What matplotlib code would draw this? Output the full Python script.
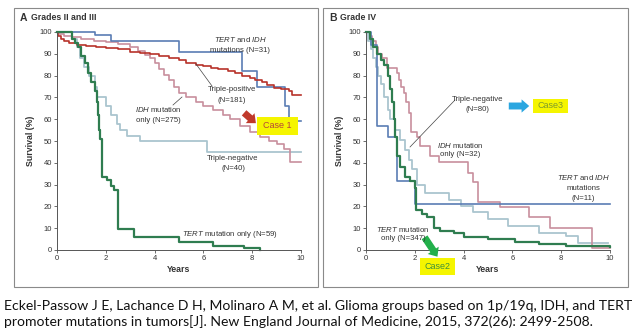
import matplotlib
matplotlib.use("Agg")
import matplotlib.pyplot as plt
from matplotlib.patches import Rectangle, FancyArrowPatch
from matplotlib.lines import Line2D

W, H = 640, 336

plt.rcParams['font.family'] = 'Liberation Sans'
plt.rcParams['mathtext.fontset'] = 'custom'
plt.rcParams['mathtext.it'] = 'Liberation Sans:italic'
plt.rcParams['mathtext.rm'] = 'Liberation Sans'

# ---- panel A: grades II and III (years, survival %) ----
a_blue_t = [0, 1.55, 2.2, 5.0, 7.6, 8.2, 9.35, 9.5, 10]
a_blue_s = [100, 98.5, 96, 91, 82, 75, 66, 59, 59]

a_red_t = [0, 0.05, 0.15, 0.3, 0.5, 0.8, 1.2, 1.6, 2.0, 2.5, 3.0, 3.4, 3.8, 4.2, 4.6, 5.0,
           5.3, 5.7, 6.0, 6.3, 6.6, 7.0, 7.3, 7.6, 7.9, 8.1, 8.4, 8.6, 8.9, 9.2, 9.5, 9.65, 10]
a_red_s = [100, 98, 97, 96, 95, 94, 93.5, 93, 92.5, 92, 91, 90.5, 90, 89, 88, 87,
           86, 85, 84.5, 83.5, 83, 82, 81, 80, 79, 78, 77, 75.5, 74.5, 74, 73, 71, 71]

a_pink_t = [0, 0.1, 0.3, 0.6, 1.0, 1.5, 2.0, 2.5, 3.0, 3.3, 3.6, 3.8, 4.0, 4.2, 4.4, 4.6,
            4.8, 5.0, 5.3, 5.7, 6.0, 6.4, 6.8, 7.1, 7.5, 7.9, 8.3, 8.7, 9.0, 9.3, 9.55, 10]
a_pink_s = [100, 99, 98, 97.5, 97, 96, 95.5, 94.5, 93, 91.5, 89.5, 88, 86, 83, 80.5, 78,
            75, 72, 70, 68, 66, 64, 62, 60, 57, 54, 52, 50, 48.5, 46.5, 40.5, 40.5]

a_ltblue_t = [0, 0.6, 0.8, 0.95, 1.1, 1.3, 1.55, 1.65, 2.0, 2.2, 2.45, 2.6, 2.85, 3.4, 6.15, 10]
a_ltblue_s = [100, 97, 93, 88, 84, 80, 75, 70, 66, 62, 58, 55, 52.5, 50, 45, 45]

a_green_t = [0, 0.6, 0.75, 0.87, 1.0, 1.15, 1.28, 1.4, 1.56, 1.62, 1.68, 1.72, 1.78, 1.85,
             2.05, 2.2, 2.35, 2.5, 3.15, 5.0, 6.4, 7.65, 8.3]
a_green_s = [100, 97, 95, 93, 89, 86, 81, 77, 73, 68, 62, 55, 51, 33.5,
             32, 29.5, 27.5, 9.5, 6, 3.5, 2, 1, 0]

# ---- panel B: grade IV ----
b_pink_t = [0, 0.15, 0.25, 0.4, 0.5, 0.65, 0.85, 1.26, 1.35, 1.45, 1.55, 1.65, 1.75, 1.85,
            2.07, 2.2, 2.64, 3.0, 4.2, 4.4, 4.6, 5.5, 6.7, 7.55, 9.25, 10]
b_pink_s = [100, 98, 96, 93, 90, 88, 83.5, 81, 78, 75, 72, 68, 63, 54,
            52, 47.5, 43, 40.5, 35.5, 31, 22, 19.5, 15, 10, 1, 1]

b_green_t = [0, 0.15, 0.3, 0.45, 0.6, 0.75, 0.9, 1.0, 1.08, 1.15, 1.2, 1.25, 1.4, 1.6, 1.8,
             2.0, 2.05, 2.3, 2.5, 2.77, 3.05, 3.6, 4.0, 5.0, 6.1, 7.1, 8.2, 10]
b_green_s = [100, 97, 93, 90, 87, 85, 80, 74, 68, 60, 52, 43, 38, 33.5, 31.5,
             28.5, 18.5, 16.5, 15, 10, 8.6, 7.9, 6, 5, 3.6, 2.9, 2, 1.3]

b_blue_t = [0, 0.2, 0.45, 0.92, 1.25, 2.0, 10]
b_blue_s = [100, 94, 57, 52, 31.5, 21, 21]

b_ltblue_t = [0, 0.1, 0.2, 0.3, 0.4, 0.5, 0.6, 0.75, 0.9, 1.0, 1.2, 1.4, 1.6, 1.75, 1.9,
              2.1, 2.4, 3.4, 3.9, 4.4, 5.0, 5.8, 7.1, 8.2, 8.7, 9.9]
b_ltblue_s = [100, 96, 92, 88, 84, 80, 76, 70, 64, 60, 55, 50.5, 46, 41.5, 37,
              30, 26, 23, 20, 17.5, 14, 11, 8, 6.5, 3.4, 3.4]

C_BLUE = '#5a7db4'
C_RED = '#b8322a'
C_PINK = '#c88f9d'
C_LTBLUE = '#aac5cf'
C_GREEN = '#2f7d50'

citation = ("Eckel-Passow J E, Lachance D H, Molinaro A M, et al. Glioma groups based on 1p/19q, IDH, and TERT\n"
            "promoter mutations in tumors[J]. New England Journal of Medicine, 2015, 372(26): 2499-2508.")

fig = plt.figure(figsize=(W / 100, H / 100), dpi=100)


def fx(x):
    return x / W


def fy(y):
    return 1 - y / H


def ftext(x, y, s, **kw):
    kw.setdefault('fontsize', 5.6)
    kw.setdefault('color', '#333333')
    kw.setdefault('ha', 'center')
    kw.setdefault('va', 'center')
    fig.text(fx(x), fy(y), s, **kw)


def fline(x0, y0, x1, y1):
    fig.add_artist(Line2D([fx(x0), fx(x1)], [fy(y0), fy(y1)], color='#444444', lw=0.5))


def farrow(x0, y0, x1, y1, color):
    fig.add_artist(FancyArrowPatch((fx(x0), fy(y0)), (fx(x1), fy(y1)), transform=fig.transFigure,
                                   arrowstyle='simple,head_length=0.55,head_width=0.95,tail_width=0.5',
                                   mutation_scale=10, color=color, lw=0))


def ybox(x0, y0, x1, y1, label, color):
    fig.add_artist(Rectangle((fx(x0), fy(y1)), fx(x1) - fx(x0), fy(y0) - fy(y1),
                             transform=fig.transFigure, facecolor='#f5f500', edgecolor='none'))
    ftext((x0 + x1) / 2, (y0 + y1) / 2, label, fontsize=6.5, color=color)


# panel frames
for x0, x1 in [(14, 318), (323, 628)]:
    fig.add_artist(Rectangle((fx(x0), fy(287)), fx(x1) - fx(x0), fy(8) - fy(287),
                             transform=fig.transFigure, facecolor='none', edgecolor='#8a8a8a', lw=0.8))

axA = fig.add_axes([fx(57), fy(250), fx(301) - fx(57), fy(32) - fy(250)])
axB = fig.add_axes([fx(366), fy(250), fx(610) - fx(366), fy(32) - fy(250)])

axA.step(a_ltblue_t, a_ltblue_s, where='post', color=C_LTBLUE, lw=1.3, clip_on=False)
axA.step(a_pink_t, a_pink_s, where='post', color=C_PINK, lw=1.2, clip_on=False)
axA.step(a_blue_t, a_blue_s, where='post', color=C_BLUE, lw=1.2, clip_on=False)
axA.step(a_red_t, a_red_s, where='post', color=C_RED, lw=1.2, clip_on=False)
axA.step(a_green_t, a_green_s, where='post', color=C_GREEN, lw=1.6, clip_on=False)

axB.step(b_ltblue_t, b_ltblue_s, where='post', color=C_LTBLUE, lw=1.3, clip_on=False)
axB.step(b_pink_t, b_pink_s, where='post', color=C_PINK, lw=1.2, clip_on=False)
axB.step(b_blue_t, b_blue_s, where='post', color=C_BLUE, lw=1.2, clip_on=False)
axB.step(b_green_t, b_green_s, where='post', color=C_GREEN, lw=1.6, clip_on=False)

for ax in (axA, axB):
    ax.set_xlim(0, 10)
    ax.set_ylim(0, 100)
    ax.set_xticks(range(0, 11, 2))
    ax.set_yticks(range(0, 101, 10))
    ax.spines['top'].set_visible(False)
    ax.spines['right'].set_visible(False)
    for s in ('left', 'bottom'):
        ax.spines[s].set_color('#555555')
        ax.spines[s].set_linewidth(0.7)
    ax.tick_params(labelsize=5.5, length=2, width=0.6, color='#555555', labelcolor='#333333', pad=1.5)
    ax.set_xlabel('Years', fontsize=6.3, fontweight='bold', color='#333333', labelpad=2)
    ax.set_ylabel('Survival (%)', fontsize=6.3, fontweight='bold', color='#333333', labelpad=3)
    ax.patch.set_alpha(0)

# panel titles
ftext(20, 18, 'A', fontsize=7.5, fontweight='bold', ha='left')
ftext(31, 18, 'Grades II and III', fontsize=6.3, fontweight='bold', ha='left')
ftext(329, 18, 'B', fontsize=7.5, fontweight='bold', ha='left')
ftext(340, 18, 'Grade IV', fontsize=6.3, fontweight='bold', ha='left')

# panel A labels
ftext(240, 40, r'$\mathit{TERT}$ and $\mathit{IDH}$')
ftext(240, 51, 'mutations (N=31)')
ftext(232, 90, 'Triple-positive')
ftext(232, 100, '(N=181)')
fline(196, 64, 212, 86)
ftext(158, 109, r'$\mathit{IDH}$ mutation')
ftext(158, 120, 'only (N=275)')
fline(182, 97, 173, 105)
ftext(233, 158, 'Triple-negative')
ftext(233, 168, '(N=40)')
ftext(230, 234, r'$\mathit{TERT}$ mutation only (N=59)')
farrow(242, 111, 258, 125, '#c0392b')
ybox(257, 117, 298, 135, 'Case 1', '#b5443a')

# panel B labels
ftext(478, 99, 'Triple-negative')
ftext(478, 110, '(N=80)')
fline(455, 100, 410, 147)
ftext(460, 145, r'$\mathit{IDH}$ mutation')
ftext(460, 155, 'only (N=32)')
ftext(583, 178, r'$\mathit{TERT}$ and $\mathit{IDH}$')
ftext(583, 188, 'mutations')
ftext(583, 198, '(N=11)')
ftext(403, 229, r'$\mathit{TERT}$ mutation')
ftext(403, 239, 'only (N=347)')
farrow(506, 106, 532, 106, '#2aa6e0')
ybox(533, 99, 568, 113, 'Case3', '#7c9a2c')
farrow(423, 235, 439, 259, '#22b04b')
ybox(420, 258, 455, 275, 'Case2', '#3d8f3d')

fig.text(fx(4), fy(314), citation, fontsize=10.1, family='Lato', color='#111111',
         ha='left', va='center', linespacing=1.25)

fig.savefig('out.png', dpi=100)
